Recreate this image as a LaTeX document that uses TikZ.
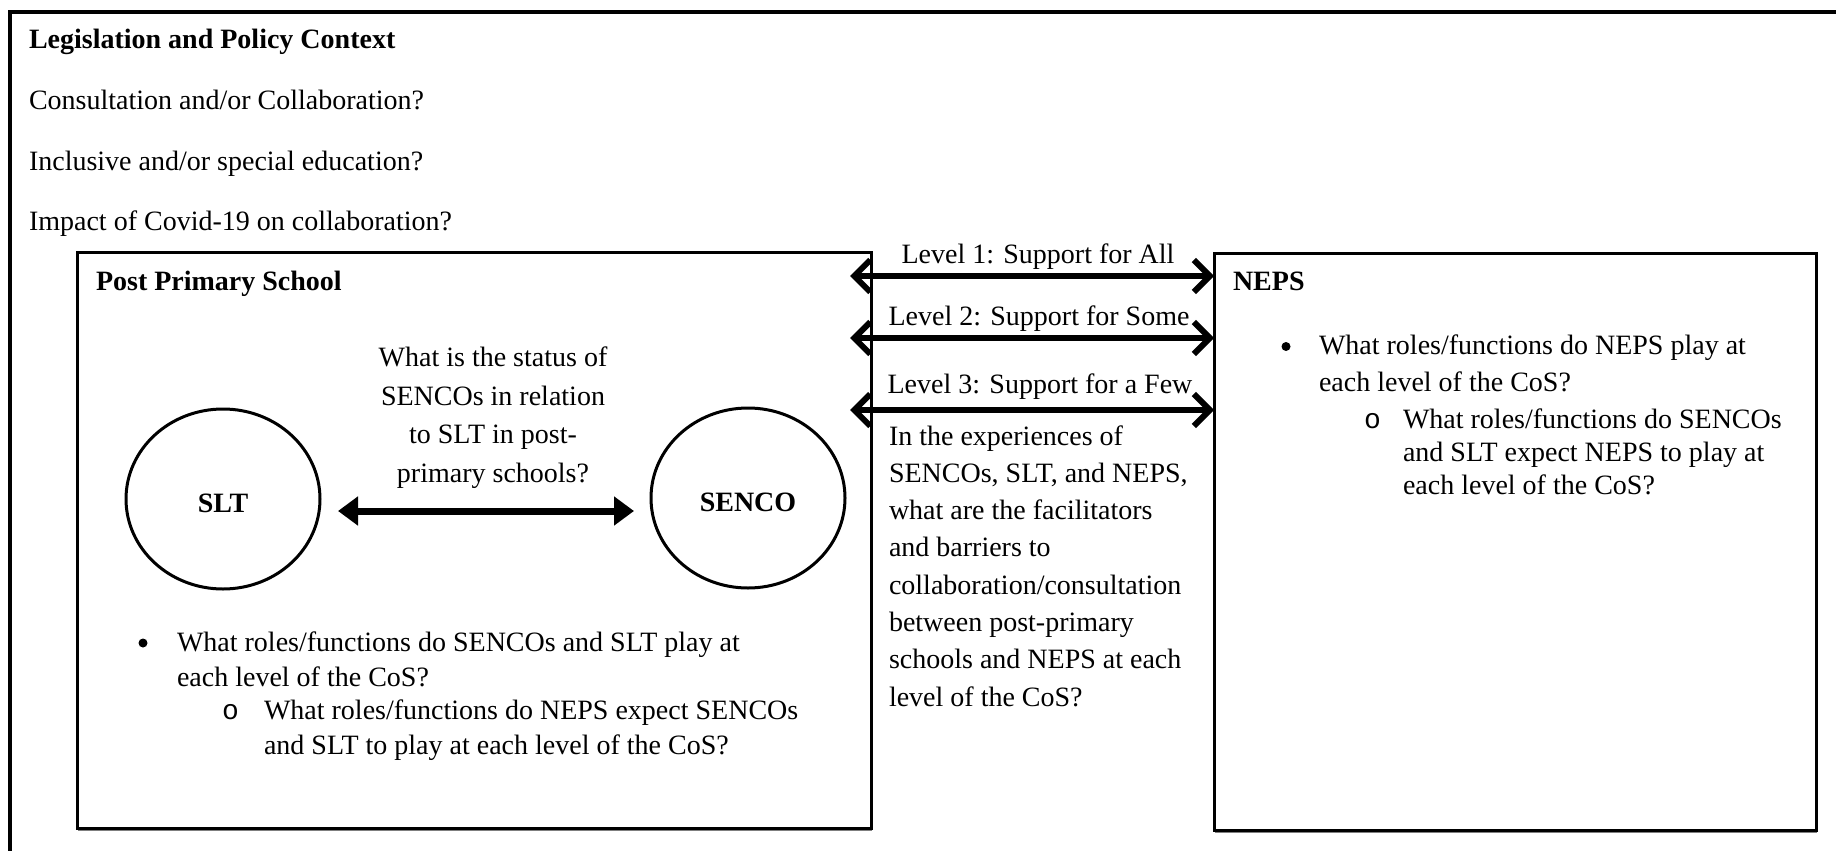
\documentclass[tikz,border=0pt]{standalone}
\usepackage{fontspec}
\setmainfont{Liberation Serif}
\newfontfamily\bulletmono{Liberation Mono}
\usetikzlibrary{arrows.meta,shapes.geometric,shadows}
\begin{document}
\begin{tikzpicture}[x=1pt,y=-1pt,
  every node/.style={inner sep=0pt, outer sep=0pt, font=\fontsize{28}{37}\selectfont},
  box/.style={draw, fill=white, line width=3pt, anchor=north west,
    drop shadow={shadow xshift=1pt, shadow yshift=-3pt, opacity=0.5, fill=black}},
  circ/.style={draw, ellipse, line width=3pt, minimum width=194pt, minimum height=180pt,
    text height=26pt, text depth=0pt, font=\fontsize{28}{37}\selectfont\bfseries},
  lvl/.style={line width=6pt, {Straight Barb[length=16pt,width=32pt]}-{Straight Barb[length=16pt,width=32pt]}},
  duo/.style={line width=7pt, {Triangle[length=20pt,width=28pt]}-{Triangle[length=20pt,width=28pt]}},
  txt/.style={anchor=base west},
  ctxt/.style={anchor=base},
  dot/.style={circle, fill=black, minimum size=9pt},
  hd/.style={anchor=base west, font=\fontsize{28}{37}\selectfont\bfseries},
]
\useasboundingbox (0,0) rectangle (1836,851);
\clip (0,0) rectangle (1836,851);
\fill[white] (0,0) rectangle (1836,851);

% outer context box (only top and left visible)
\draw[line width=4pt] (10,12) rectangle (1900,920);

\node[hd] (legis) at (29,48.5) {Legislation and Policy Context};
\node[txt] (consult) at (29,109.5) {Consultation and/or Collaboration?};
\node[txt] (incl) at (29,170.5) {Inclusive and/or special education?};
\node[txt] (covid) at (29,230.5) {Impact of Covid-19 on collaboration?};

% post primary school box
\node[box, minimum width=794pt, minimum height=576pt] (pps) at (77,252) {};
\node[hd] (ppshd) at (96,290) {Post Primary School};

% NEPS box
\node[box, minimum width=602pt, minimum height=577pt] (neps) at (1214,253) {};
\node[hd] (nepshd) at (1233,290) {NEPS};

% SLT and SENCO
\node[circ] (slt) at (223,499) {SLT};
\node[circ] (senco) at (748,498) {SENCO};
\coordinate (duoL) at (338,511);
\coordinate (duoR) at (634,511);
\draw[duo] (duoL) -- (duoR);

\node[ctxt] (q1) at (493,366.5) {What is the status of};
\node[ctxt] (q2) at (493,405) {SENCOs in relation};
\node[ctxt] (q3) at (493,443.5) {to SLT in post-};
\node[ctxt] (q4) at (493,482) {primary schools?};

% left bullets
\node[dot] (lb1) at (143,643) {};
\node[txt] (lt1) at (177,651) {What roles/functions do SENCOs and SLT play at};
\node[txt] (lt2) at (177,686) {each level of the CoS?};
\node[txt] (lb2) at (222,719) {\bulletmono o};
\node[txt] (lt3) at (264,719) {What roles/functions do NEPS expect SENCOs};
\node[txt] (lt4) at (264,754) {and SLT to play at each level of the CoS?};

% NEPS bullets
\node[dot] (nb1) at (1286,346.5) {};
\node[txt] (nt1) at (1319,354.5) {What roles/functions do NEPS play at};
\node[txt] (nt2) at (1319,391.5) {each level of the CoS?};
\node[txt] (nb2) at (1364,428.5) {\bulletmono o};
\node[txt] (nt3) at (1403,428.5) {What roles/functions do SENCOs};
\node[txt] (nt4) at (1403,461.5) {and SLT expect NEPS to play at};
\node[txt] (nt5) at (1403,494) {each level of the CoS?};

% level arrows
\coordinate (l1) at (850,276);
\coordinate (l2) at (850,338);
\coordinate (l3) at (850,410);
\draw[lvl] (l1) -- (neps.west |- l1);
\draw[lvl] (l2) -- (neps.west |- l2);
\draw[lvl] (l3) -- (neps.west |- l3);
\node[ctxt] (lv1) at (1038,263) {Level 1: Support for All};
\node[ctxt] (lv2) at (1039,325) {Level 2: Support for Some};
\node[ctxt] (lv3) at (1040,393) {Level 3: Support for a Few};

% middle question
\foreach \t [count=\i] in {In the experiences of, {SENCOs, SLT, and NEPS,}, what are the facilitators, and barriers to, collaboration/consultation, between post-primary, schools and NEPS at each, level of the CoS?}
  \node[txt] (mid\i) at (889,445+37.3*\i-37.3) {\t};
\end{tikzpicture}
\end{document}
